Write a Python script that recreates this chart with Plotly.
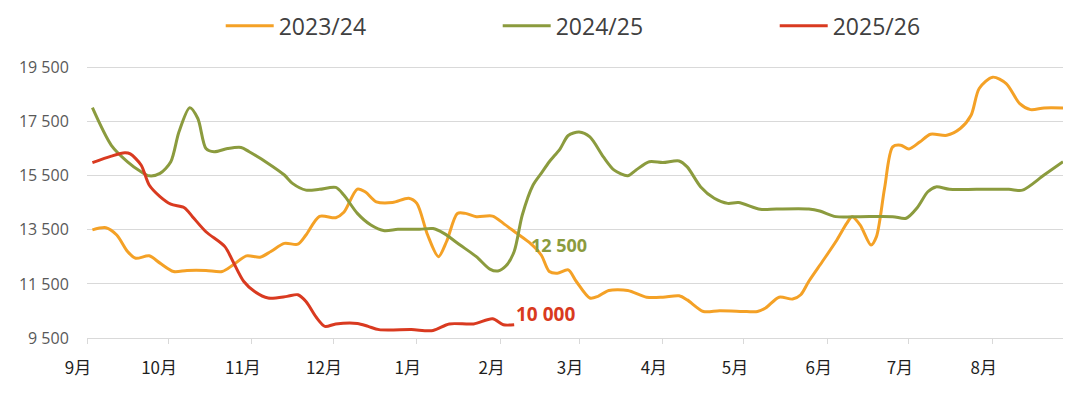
import pandas as pd
import plotly.graph_objects as go

# ---- data (x = days since 1 Sep of the season, y = price) ----
season_start = pd.Timestamp("2023-09-01")

days_2324 = [2, 7, 11, 15, 18, 23, 27, 32, 37, 44, 50, 54, 59, 64, 68, 73, 78, 81, 86, 92,
             95, 100, 103, 107, 113, 119, 122, 126, 130, 133, 137, 140, 144, 150, 154, 159,
             164, 168, 171, 174, 178, 181, 186, 189, 193, 200, 207, 213, 219, 222, 228, 234,
             244, 248, 251, 256, 261, 264, 267, 272, 277, 281, 283, 286, 290, 292, 295, 298,
             301, 304, 308, 312, 318, 323, 327, 330, 335, 340, 345, 349, 354, 361]
vals_2324 = [13500, 13580, 13310, 12700, 12450, 12540, 12270, 11960, 12000, 12000, 11960,
             12200, 12540, 12490, 12700, 13000, 12970, 13310, 14000, 13950, 14150, 15010,
             14900, 14540, 14510, 14670, 14480, 13310, 12510, 13070, 14110, 14110, 13990,
             14010, 13740, 13370, 13000, 12570, 11960, 11900, 12020, 11590, 10980, 11040,
             11260, 11260, 11010, 11010, 11060, 10910, 10480, 10510, 10480, 10480, 10610,
             11010, 10940, 11100, 11600, 12330, 13070, 13740, 13990, 13680, 12940, 13250,
             15040, 16570, 16630, 16490, 16750, 17040, 17000, 17250, 17740, 18730, 19150,
             18910, 18170, 17950, 18010, 18010]

days_2425 = [2, 9, 15, 20, 23, 27, 31, 34, 38, 41, 44, 47, 52, 57, 60, 67, 73, 76, 81, 86,
             92, 95, 100, 105, 110, 115, 123, 128, 132, 138, 144, 149, 152, 155, 158, 161,
             165, 168, 171, 175, 178, 182, 186, 191, 195, 200, 203, 208, 213, 219, 222, 227,
             232, 237, 241, 249, 255, 267, 271, 277, 286, 298, 303, 307, 311, 314, 319, 329,
             341, 346, 354, 361]
vals_2425 = [18020, 16630, 16020, 15650, 15500, 15590, 16020, 17120, 18020, 17620, 16510,
             16390, 16510, 16550, 16390, 15960, 15530, 15220, 14970, 15000, 15070, 14790,
             14110, 13680, 13470, 13520, 13520, 13550, 13370, 12940, 12510, 12050, 11980,
             12170, 12700, 14050, 15160, 15590, 16020, 16500, 16990, 17120, 16940, 16200,
             15710, 15500, 15710, 16020, 15990, 16050, 15830, 15090, 14670, 14480, 14510,
             14260, 14270, 14270, 14200, 13990, 13990, 13990, 13930, 14310, 14910, 15090,
             15000, 15000, 15000, 14970, 15530, 16020]

days_2526 = [2, 9, 14, 16, 20, 23, 27, 31, 36, 39, 44, 51, 54, 58, 62, 67, 74, 78, 81, 85,
             88, 92, 100, 104, 108, 120, 128, 134, 143, 150, 154, 158]
vals_2526 = [15990, 16230, 16350, 16310, 15900, 15160, 14730, 14450, 14320, 13990, 13430,
             12880, 12330, 11590, 11220, 10980, 11040, 11100, 10850, 10240, 9930, 10020,
             10040, 9930, 9810, 9810, 9780, 10020, 10020, 10210, 9990, 9990]

series_names = ["2023/24", "2024/25", "2025/26"]
series_colors = ["#F4A126", "#8B9B3E", "#D93A20"]
series_days = [days_2324, days_2425, days_2526]
series_vals = [vals_2324, vals_2425, vals_2526]

month_labels = ["9月", "10月", "11月", "12月", "1月", "2月", "3月", "4月", "5月", "6月", "7月", "8月"]
y_ticks = [9500, 11500, 13500, 15500, 17500, 19500]

label_green = "12 500"
label_red = "10 000"


def to_dates(days):
    return season_start + pd.to_timedelta(days, unit="D")


fig = go.Figure()
for name, color, d, v in zip(series_names, series_colors, series_days, series_vals):
    fig.add_trace(go.Scatter(
        x=to_dates(d), y=v, name=name, mode="lines",
        line=dict(color=color, width=3, shape="spline", smoothing=0.8),
        hoverinfo="skip",
    ))

fig.add_annotation(x=to_dates([163.5])[0], y=12950, text=label_green, showarrow=False,
                   xanchor="left", yanchor="middle",
                   font=dict(family="Open Sans", size=18, color=series_colors[1], weight="bold"))
fig.add_annotation(x=to_dates([158])[0], y=10390, text=label_red, showarrow=False,
                   xanchor="left", yanchor="middle",
                   font=dict(family="Open Sans", size=19, color=series_colors[2], weight="bold"))

month_ticks = pd.date_range(season_start, periods=12, freq="MS")

fig.update_layout(
    width=1064, height=380,
    margin=dict(l=79, r=9, t=57, b=50, autoexpand=False),
    paper_bgcolor="white", plot_bgcolor="white",
    showlegend=True,
    legend=dict(orientation="h", x=0.137, xanchor="left", y=1.144, yanchor="middle",
                font=dict(family="Open Sans", size=23, color="#404040"),
                entrywidth=214, itemwidth=48, bgcolor="rgba(0,0,0,0)"),
    xaxis=dict(
        type="date", range=[season_start, to_dates([361])[0]],
        tickvals=month_ticks, ticktext=month_labels,
        showgrid=False, showline=True, linecolor="#d9d9d9", linewidth=1,
        ticks="outside", ticklen=5, tickcolor="#d9d9d9",
        tickfont=dict(family="Noto Sans CJK SC", size=17, color="#1f1f1f"),
        ticklabelshift=-9, ticklabelstandoff=10,
        zeroline=False, fixedrange=True, automargin=False,
    ),
    yaxis=dict(
        range=[9500, 19600], tickvals=y_ticks,
        ticktext=[f"{v:,}".replace(",", " ") for v in y_ticks],
        showgrid=True, gridcolor="#d9d9d9", gridwidth=1,
        zeroline=False, showline=False,
        ticks="outside", ticklen=9, tickcolor="rgba(0,0,0,0)",
        tickfont=dict(family="Open Sans", size=16, color="#595959"),
        ticklabelstandoff=5, fixedrange=True, automargin=False,
    ),
)

fig.write_html("out.html")
